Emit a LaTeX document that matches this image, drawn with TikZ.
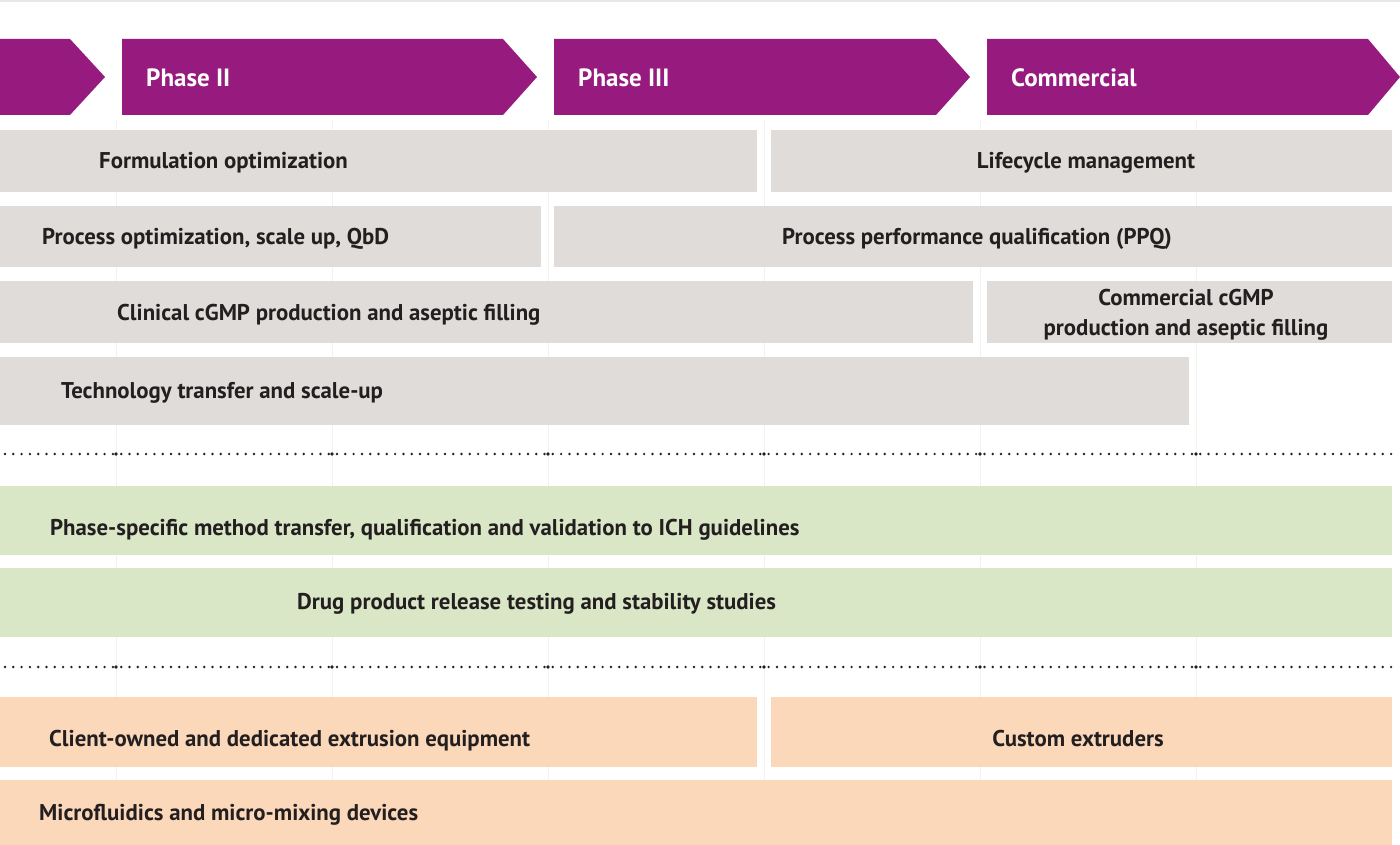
\documentclass[tikz,border=0pt]{standalone}
\usepackage{fontspec}
\setmainfont{PT Sans}
\definecolor{phase}{HTML}{971A7F}
\definecolor{greybox}{HTML}{E0DCD9}
\definecolor{greenbox}{HTML}{DAE7C6}
\definecolor{orangebox}{HTML}{FBD8B9}
\definecolor{txt}{HTML}{231F20}
\definecolor{grid}{HTML}{F4F2F1}
\definecolor{topband}{HTML}{E9E6E3}
\tikzset{
  lbl/.style={anchor=base west, inner sep=0pt, text=txt, font=\fontsize{22.8}{26}\selectfont\bfseries},
  clbl/.style={anchor=base, inner sep=0pt, text=txt, align=center, font=\fontsize{22.8}{30}\selectfont\bfseries},
  phlbl/.style={anchor=base west, inner sep=0pt, text=white, font=\fontsize{25}{28}\selectfont\bfseries},
  dot/.style={fill=txt},
}
\begin{document}
\begin{tikzpicture}[x=1pt,y=-1pt]
\useasboundingbox (0,0) rectangle (1400,845);
\fill[white] (0,0) rectangle (1400,845);
% faint grid
\foreach \gx in {116,332,548,764,980,1196}
  \draw[grid, line width=0.8pt] (\gx,120) -- (\gx,845);
\fill[topband] (0,0) rectangle (1400,2.5);
% phase arrows
\fill[phase] (0,39) -- (70,39) -- (105,77) -- (70,115) -- (0,115) -- cycle;
\fill[phase] (122,39) -- (503,39) -- (537,77) -- (503,115) -- (122,115) -- cycle;
\fill[phase] (554,39) -- (936,39) -- (970,77) -- (936,115) -- (554,115) -- cycle;
\fill[phase] (987,39) -- (1368,39) -- (1400,77) -- (1368,115) -- (987,115) -- cycle;
\node[phlbl] (p2) at (146,86.5) {Phase II};
\node[phlbl] (p3) at (578,86.5) {Phase III};
\node[phlbl] (pc) at (1011,86.5) {Commercial};
% grey rows
\fill[greybox] (0,130) rectangle (757,192);
\fill[greybox] (771,130) rectangle (1392,192);
\fill[greybox] (0,206) rectangle (541,267);
\fill[greybox] (554,206) rectangle (1392,267);
\fill[greybox] (0,281) rectangle (973,343);
\fill[greybox] (987,281) rectangle (1392,343);
\fill[greybox] (0,357) rectangle (1189,425);
\node[lbl] (fo) at (99,169) {Formulation optimization};
\node[clbl] (lm) at (1086,169) {Lifecycle management};
\node[clbl] (ppq) at (977,244) {Process performance qualification (PPQ)};
\node[lbl] (po) at (42,244) {Process optimization, scale up, QbD};
\node[lbl] (cl) at (117,320) {Clinical cGMP production and aseptic filling};
\node[clbl] (cc) at (1186,335) {Commercial cGMP\\production and aseptic filling};
\node[lbl] (tt) at (61,398) {Technology transfer and scale-up};
% dotted separators
\foreach \yy in {454,667} {
  \foreach \i in {0,...,167}
    \fill[dot] (5+\i*8.3,\yy) circle (1.35pt);
  \foreach \gx in {116,332,548,764,980,1196}
    \fill[dot] (\gx,\yy) circle (1.8pt);
}
% green rows
\fill[greenbox] (0,486) rectangle (1392,555);
\fill[greenbox] (0,568) rectangle (1392,637);
\node[lbl] (ms) at (50,535) {Phase-specific method transfer, qualification and validation to ICH guidelines};
\node[lbl] (dp) at (297,609) {Drug product release testing and stability studies};
% orange rows
\fill[orangebox] (0,697) rectangle (757,767);
\fill[orangebox] (771,697) rectangle (1392,767);
\fill[orangebox] (0,780) rectangle (1392,845);
\node[lbl] (co) at (49,746) {Client-owned and dedicated extrusion equipment};
\node[clbl] (ce) at (1078,746) {Custom extruders};
\node[lbl] (mf) at (39,820) {Microfluidics and micro-mixing devices};
\end{tikzpicture}
\end{document}
